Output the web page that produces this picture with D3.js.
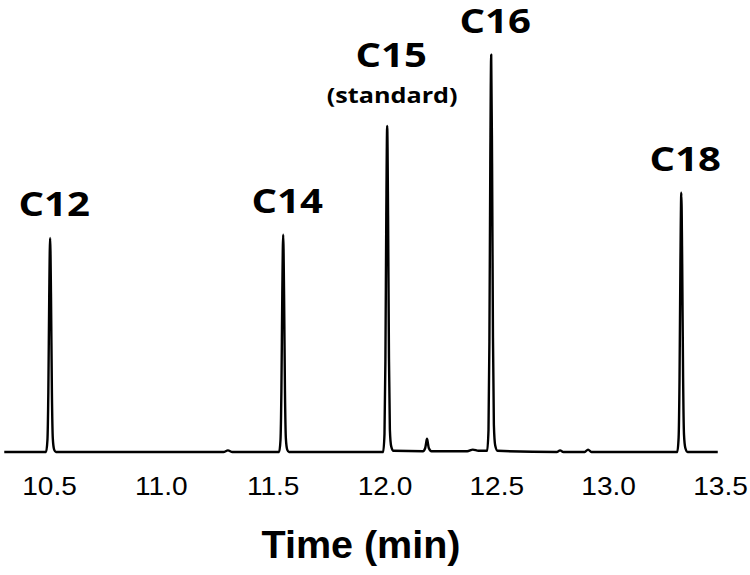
<!DOCTYPE html>
<html>
<head>
<meta charset="utf-8">
<script src="https://cdn.jsdelivr.net/npm/d3@7"></script>
<style>
  html, body { margin: 0; padding: 0; background: #fff; }
  svg { display: block; }
</style>
</head>
<body>
<svg id="chart" width="750" height="575"></svg>
<script>
// ---- data ----
const peakNames   = ["C12", "C14", "C15", "C16", "C18"];
const peakTimes   = [10.505, 11.547, 12.012, 12.477, 13.327];
const peakHeights = [53.5, 54.3, 81.5, 99.3, 64.8];
const peakNotes   = ["", "", "(standard)", "", ""];

// trace: retention time (min)
const traceTime = [
  10.30,
  10.487, 10.493, 10.497, 10.501, 10.505, 10.509, 10.513, 10.517, 10.523, 10.531,
  11.28, 11.30, 11.32,
  11.529, 11.535, 11.539, 11.543, 11.547, 11.551, 11.555, 11.559, 11.565, 11.573,
  11.994, 12.000, 12.004, 12.008, 12.012, 12.016, 12.020, 12.024, 12.030, 12.040,
  12.172, 12.182, 12.186, 12.190, 12.194, 12.198, 12.210,
  12.37, 12.395, 12.42,
  12.459, 12.465, 12.469, 12.473, 12.477, 12.481, 12.485, 12.489, 12.495, 12.505,
  12.77, 12.785, 12.80,
  12.895, 12.91, 12.925,
  13.309, 13.315, 13.319, 13.323, 13.327, 13.331, 13.335, 13.339, 13.345, 13.355,
  13.49
];
// trace: detector signal (relative units)
const traceSignal = [
  0,
  0, 3.0, 14.9, 38.8, 53.5, 38.8, 14.9, 3.4, 0.6, 0,
  0, 0.4, 0,
  0, 3.0, 15.1, 39.4, 54.3, 39.4, 15.1, 3.4, 0.6, 0,
  0, 4.6, 22.7, 59.2, 81.5, 59.2, 23.5, 5.6, 1.4, 0.3,
  0.2, 1.0, 2.2, 3.3, 2.2, 1.0, 0.2,
  0.2, 0.6, 0.3,
  0.3, 5.6, 27.6, 72.1, 99.3, 72.1, 28.5, 6.8, 1.6, 0.3,
  0, 0.4, 0,
  0, 0.6, 0,
  0, 3.6, 18.0, 47.0, 64.8, 47.0, 18.6, 4.4, 1.0, 0,
  0
];

const tickValues = [10.5, 11.0, 11.5, 12.0, 12.5, 13.0, 13.5];
const xTitle = "Time (min)";

// ---- layout ----
const svg = d3.select("#chart");
const x = d3.scaleLinear().domain([10.5, 13.5]).range([49, 720]);
const y = d3.scaleLinear().domain([0, 100]).range([452, 52]);

const trace = traceTime.map((t, i) => [t, traceSignal[i]]);

const line = d3.line()
  .x(d => x(d[0]))
  .y(d => y(d[1]))
  .curve(d3.curveMonotoneX);

svg.append("path")
  .datum(trace)
  .attr("d", line)
  .attr("fill", "none")
  .attr("stroke", "#000")
  .attr("stroke-width", 2.4)
  .attr("stroke-linejoin", "round");

// x axis: labels only (no axis line / ticks drawn)
const xAxis = d3.axisBottom(x)
  .tickValues(tickValues)
  .tickFormat(d3.format(".1f"))
  .tickSize(0)
  .tickPadding(0);

const gx = svg.append("g")
  .attr("transform", "translate(0,476)")
  .call(xAxis);
gx.select(".domain").remove();
gx.selectAll("text")
  .attr("dy", null)
  .attr("y", 19)
  .attr("font-family", "'Liberation Sans', Arial, sans-serif")
  .attr("font-size", 26)
  .attr("transform", null)
  .attr("fill", "#000");
gx.selectAll(".tick text")
  .each(function () {
    const t = d3.select(this);
    t.attr("transform", "scale(1.08,1)");
  });

svg.append("text")
  .attr("transform", "translate(361,558) scale(1.04,1)")
  .attr("text-anchor", "middle")
  .attr("font-family", "'Liberation Sans', Arial, sans-serif")
  .attr("font-weight", "bold")
  .attr("font-size", 38)
  .attr("fill", "#000")
  .text(xTitle);

// peak labels
function stretchedText(px, py, str, size, sx) {
  svg.append("text")
    .attr("transform", `translate(${px},${py}) scale(${sx},1)`)
    .attr("text-anchor", "middle")
    .attr("font-family", "'Open Sans', sans-serif")
    .attr("font-weight", "bold")
    .attr("font-size", size)
    .attr("fill", "#000")
    .text(str);
}

peakNames.forEach((name, i) => {
  const px = x(peakTimes[i]) + 4;
  const top = y(peakHeights[i]);
  if (peakNotes[i]) {
    stretchedText(px + 1, top - 23, peakNotes[i], 21, 1.2);
    stretchedText(px, top - 59, name, 34, 1.18);
  } else {
    stretchedText(px, top - 22, name, 34, 1.18);
  }
});
</script>
</body>
</html>
